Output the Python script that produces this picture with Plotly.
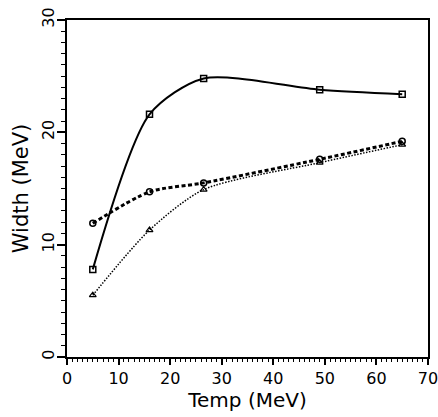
import plotly.graph_objects as go

temp = [5, 16, 26.5, 49, 65]
width_solid = [7.8, 21.6, 24.8, 23.8, 23.4]
width_dashed = [11.9, 14.7, 15.5, 17.6, 19.2]
width_dotted = [5.5, 11.3, 14.9, 17.3, 18.9]

fig = go.Figure()
fig.add_trace(go.Scatter(x=temp, y=width_solid, mode="lines+markers",
    line=dict(color="black", width=2, shape="spline", smoothing=0.75),
    marker=dict(symbol="square-open", size=6, color="black", line=dict(width=1.5))))
fig.add_trace(go.Scatter(x=temp, y=width_dashed, mode="lines+markers",
    line=dict(color="black", width=3, dash="4px,2.5px", shape="spline", smoothing=0.75),
    marker=dict(symbol="circle-open", size=6, color="black", line=dict(width=1.5))))
fig.add_trace(go.Scatter(x=temp, y=width_dotted, mode="lines+markers",
    line=dict(color="black", width=1.5, dash="1.5px,1.5px", shape="spline", smoothing=0.75),
    marker=dict(symbol="triangle-up-open", size=6, color="black", line=dict(width=1.2))))

font = "DejaVu Sans"
fig.update_layout(
    width=438, height=417,
    margin=dict(l=67, r=10, t=20, b=60, autoexpand=False),
    plot_bgcolor="white", paper_bgcolor="white",
    showlegend=False,
    font=dict(family=font, color="black", size=16),
)
fig.update_xaxes(range=[0, 70], dtick=10, tick0=0, showgrid=False, zeroline=False,
    showline=True, linecolor="black", linewidth=2, mirror=True,
    ticks="outside", ticklen=6, tickwidth=1.5, tickcolor="black",
    minor=dict(dtick=1, ticks="outside", ticklen=3, tickwidth=1, tickcolor="black"),
    title=dict(text="Temp (MeV)", font=dict(size=20), standoff=2),
    tickfont=dict(size=16), automargin=False, ticklabeloverflow="allow")
fig.update_yaxes(range=[0, 30], dtick=10, tick0=0, showgrid=False, zeroline=False,
    showline=True, linecolor="black", linewidth=2, mirror=True,
    ticks="outside", ticklen=8, tickwidth=1.5, tickcolor="black",
    minor=dict(dtick=1, ticks="outside", ticklen=4, tickwidth=1, tickcolor="black"),
    tickangle=-90, ticklabelstandoff=-3,
    title=dict(text="Width (MeV)", font=dict(size=21), standoff=4),
    tickfont=dict(size=16), automargin=False, ticklabeloverflow="allow")

fig.write_html("out.html", config={"displayModeBar": False},
               post_script="document.body.style.margin='0';document.body.style.overflow='hidden';")
